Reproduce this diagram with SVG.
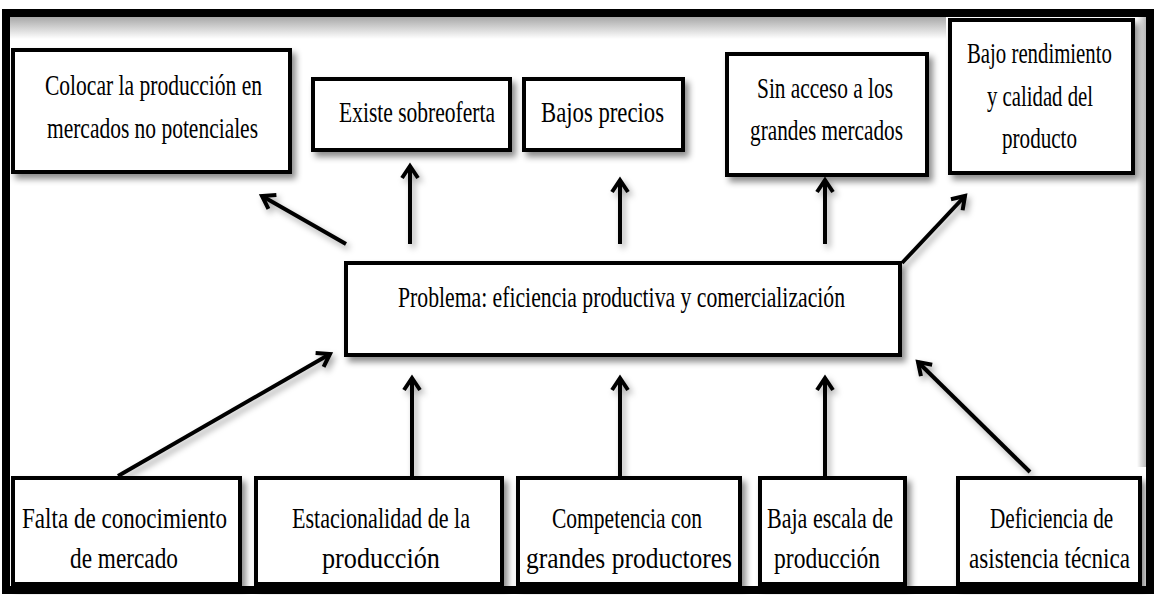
<svg xmlns="http://www.w3.org/2000/svg" width="1154" height="595" viewBox="0 0 1154 595">
<style>
.box{fill:#fff;stroke:#000;stroke-width:4;filter:url(#sh)}
.t{font-family:"Liberation Serif","Times New Roman",serif;font-size:30px;fill:#000}
.c{fill:none;stroke:#000;stroke-width:4;marker-end:url(#ah)}
</style>
<defs>
<filter id="sh" x="-10%" y="-10%" width="130%" height="140%">
<feDropShadow dx="4" dy="5" stdDeviation="3" flood-color="#000" flood-opacity="0.45"/>
</filter>
<filter id="shl" x="-20%" y="-20%" width="150%" height="150%">
<feDropShadow dx="3" dy="4" stdDeviation="3" flood-color="#000" flood-opacity="0.35"/>
</filter>
<marker id="ah" viewBox="0 0 20 20" markerWidth="20" markerHeight="20" refX="16" refY="10" orient="auto" markerUnits="userSpaceOnUse">
<path d="M4,2 L16,10 L4,18" fill="none" stroke="#000" stroke-width="4"/>
</marker>
<linearGradient id="gt" x1="0" y1="0" x2="0" y2="1">
<stop offset="0" stop-color="#a8a8a8"/><stop offset="1" stop-color="#fff"/>
</linearGradient>
<linearGradient id="gr" x1="1" y1="0" x2="0" y2="0">
<stop offset="0" stop-color="#a8a8a8"/><stop offset="1" stop-color="#fff"/>
</linearGradient>
</defs>
<rect width="1154" height="595" fill="#fff"/>
<g id="frame">
<rect x="8" y="17" width="938" height="22" fill="url(#gt)"/>
<rect x="1137" y="17" width="11" height="450" fill="url(#gr)"/>
<rect x="6" y="13" width="1144" height="577" fill="none" stroke="#000" stroke-width="8"/>
</g>
<g id="connectors" filter="url(#shl)">
<line class="c" x1="346" y1="244" x2="262" y2="196"/>
<line class="c" x1="410" y1="244" x2="410" y2="166"/>
<line class="c" x1="620" y1="244" x2="620" y2="180"/>
<line class="c" x1="825" y1="244" x2="825" y2="180"/>
<line class="c" x1="902" y1="263" x2="965" y2="196"/>
<line class="c" x1="118" y1="476" x2="330" y2="354"/>
<line class="c" x1="412" y1="476" x2="412" y2="378"/>
<line class="c" x1="620" y1="476" x2="620" y2="378"/>
<line class="c" x1="825" y1="476" x2="825" y2="378"/>
<line class="c" x1="1030" y1="472" x2="918" y2="362"/>
</g>
<g id="n-colocar">
<rect class="box" x="13" y="50" width="277" height="122"/>
<text class="t" x="45" y="95" textLength="217" lengthAdjust="spacingAndGlyphs">Colocar la producción en</text>
<text class="t" x="47" y="138" textLength="211" lengthAdjust="spacingAndGlyphs">mercados no potenciales</text>
</g>
<g id="n-sobreoferta">
<rect class="box" x="313" y="79" width="197" height="71"/>
<text class="t" x="339" y="122" textLength="156" lengthAdjust="spacingAndGlyphs">Existe sobreoferta</text>
</g>
<g id="n-precios">
<rect class="box" x="524" y="79" width="159" height="71"/>
<text class="t" x="541" y="122" textLength="123" lengthAdjust="spacingAndGlyphs">Bajos precios</text>
</g>
<g id="n-acceso">
<rect class="box" x="727" y="54" width="200" height="121"/>
<text class="t" x="757" y="98" textLength="136" lengthAdjust="spacingAndGlyphs">Sin acceso a los</text>
<text class="t" x="750" y="140" textLength="153" lengthAdjust="spacingAndGlyphs">grandes mercados</text>
</g>
<g id="n-rendimiento">
<rect class="box" x="950" y="20" width="183" height="153"/>
<text class="t" transform="translate(967,63) scale(0.7,1)" x="0" y="0" textLength="207" lengthAdjust="spacingAndGlyphs">Bajo rendimiento</text>
<text class="t" x="987" y="106" textLength="106" lengthAdjust="spacingAndGlyphs">y calidad del</text>
<text class="t" x="1002" y="148" textLength="75" lengthAdjust="spacingAndGlyphs">producto</text>
</g>
<g id="n-problema">
<rect class="box" x="346" y="263" width="554" height="92"/>
<text class="t" x="398" y="307" textLength="447" lengthAdjust="spacingAndGlyphs">Problema: eficiencia productiva y comercialización</text>
</g>
<g id="n-falta">
<rect class="box" x="13" y="478" width="227" height="106"/>
<text class="t" x="22" y="528" textLength="205" lengthAdjust="spacingAndGlyphs">Falta de conocimiento</text>
<text class="t" x="70" y="568" textLength="108" lengthAdjust="spacingAndGlyphs">de mercado</text>
</g>
<g id="n-estacionalidad">
<rect class="box" x="256" y="478" width="246" height="106"/>
<text class="t" x="292" y="528" textLength="178" lengthAdjust="spacingAndGlyphs">Estacionalidad de la</text>
<text class="t" x="322" y="568" textLength="118" lengthAdjust="spacingAndGlyphs">producción</text>
</g>
<g id="n-competencia">
<rect class="box" x="518" y="478" width="222" height="106"/>
<text class="t" x="552" y="528" textLength="150" lengthAdjust="spacingAndGlyphs">Competencia con</text>
<text class="t" x="526" y="568" textLength="206" lengthAdjust="spacingAndGlyphs">grandes productores</text>
</g>
<g id="n-escala">
<rect class="box" x="760" y="478" width="145" height="106"/>
<text class="t" x="767" y="528" textLength="126" lengthAdjust="spacingAndGlyphs">Baja escala de</text>
<text class="t" x="774" y="568" textLength="106" lengthAdjust="spacingAndGlyphs">producción</text>
</g>
<g id="n-deficiencia">
<rect class="box" x="958" y="478" width="182" height="106"/>
<text class="t" transform="translate(990,528) scale(0.7,1)" x="0" y="0" textLength="176" lengthAdjust="spacingAndGlyphs">Deficiencia de</text>
<text class="t" transform="translate(969,568) scale(0.7,1)" x="0" y="0" textLength="230" lengthAdjust="spacingAndGlyphs">asistencia técnica</text>
</g>
</svg>
